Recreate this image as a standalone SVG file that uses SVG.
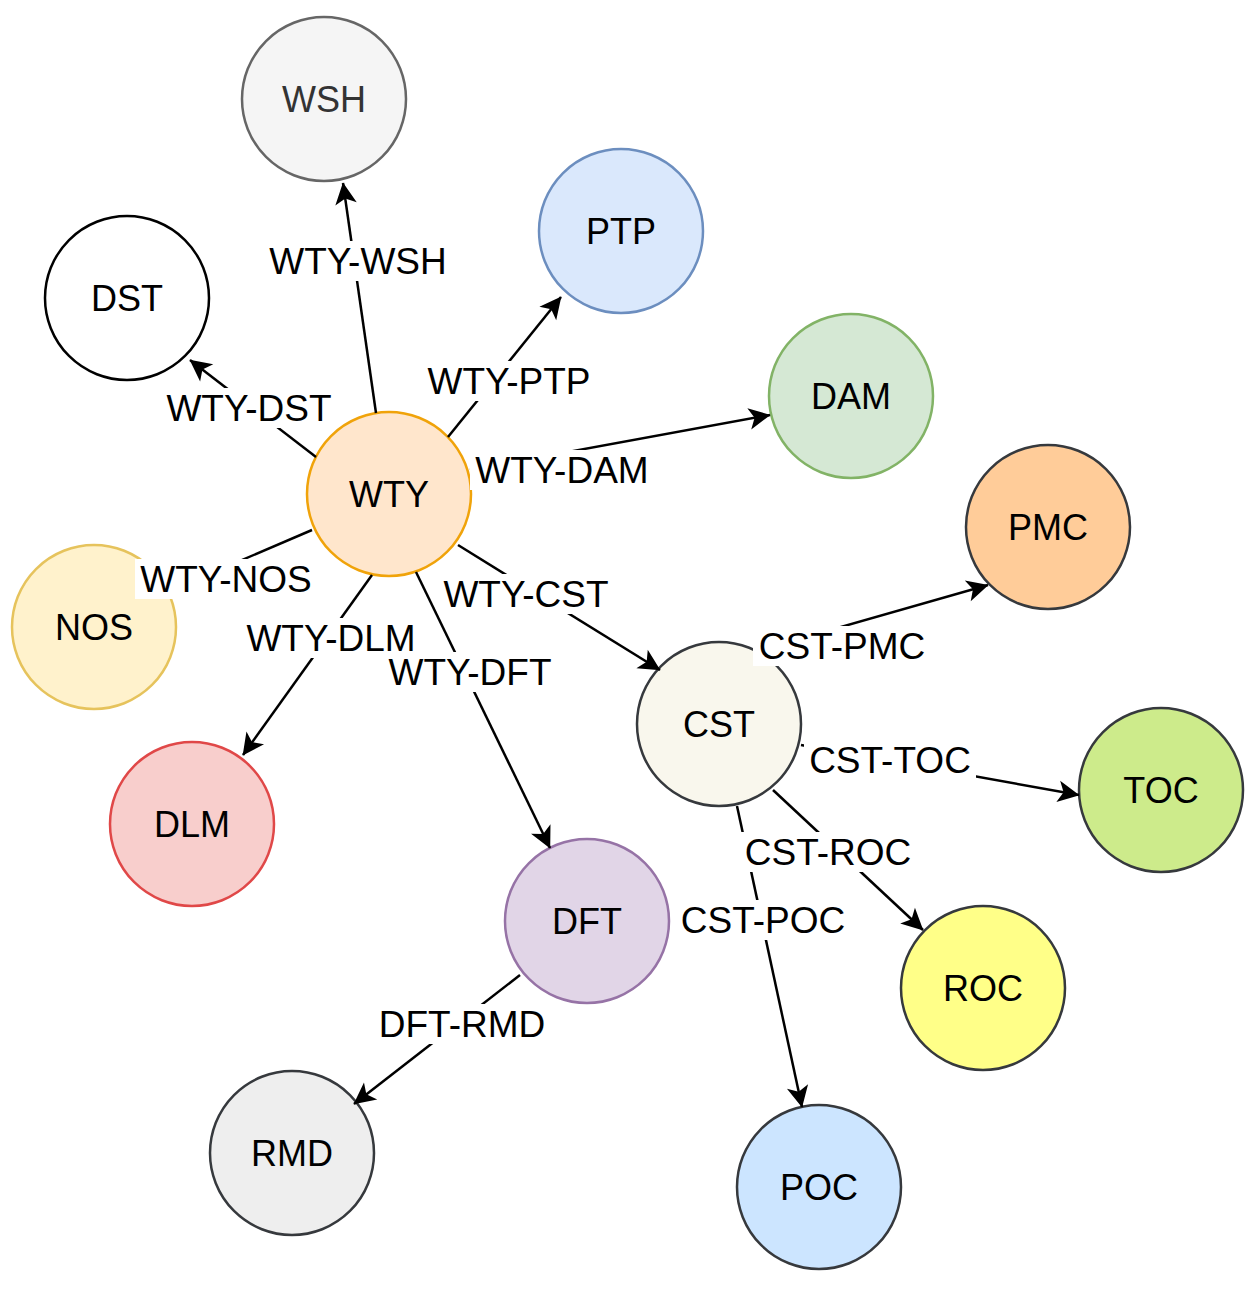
<svg xmlns="http://www.w3.org/2000/svg" width="1259" height="1303" viewBox="0 0 1259 1303">
<style>
.n{stroke-width:2.5}
.t{font-family:"Liberation Sans",Arial,sans-serif;font-size:36px;text-anchor:middle;dominant-baseline:central;fill:#000}
.l{font-family:"Liberation Sans",Arial,sans-serif;font-size:37px;text-anchor:middle;dominant-baseline:central;fill:#000}
.e{stroke:#000;stroke-width:2.5;fill:none}
.bg{fill:#fff}
</style>
<defs><marker id="a" viewBox="0 0 10 10" refX="9" refY="5" markerWidth="9" markerHeight="9" markerUnits="userSpaceOnUse" orient="auto" style="overflow:visible"><path d="M0,0 L10,5 L0,10 L2.5,5 Z" fill="#000" transform="scale(2.4) translate(-6,-2.9)"/></marker></defs>
<rect width="1259" height="1303" fill="#fff"/>
<g id="nodes">
<g id="WSH"><circle class="n" cx="324" cy="99" r="82" fill="#f5f5f5" stroke="#666"/><text class="t" x="324" y="99" fill="#333" style="fill:#333">WSH</text></g>
<g id="PTP"><circle class="n" cx="621" cy="231" r="82" fill="#dae8fc" stroke="#6c8ebf"/><text class="t" x="621" y="231">PTP</text></g>
<g id="DST"><circle class="n" cx="127" cy="298" r="82" fill="#fff" stroke="#000"/><text class="t" x="127" y="298">DST</text></g>
<g id="DAM"><circle class="n" cx="851" cy="396" r="82" fill="#d5e8d4" stroke="#82b366"/><text class="t" x="851" y="396">DAM</text></g>
<g id="WTY"><circle class="n" cx="389" cy="494" r="82" fill="#ffe6cc" stroke="#f0a30a"/><text class="t" x="389" y="494">WTY</text></g>
<g id="PMC"><circle class="n" cx="1048" cy="527" r="82" fill="#ffcc99" stroke="#36393d"/><text class="t" x="1048" y="527">PMC</text></g>
<g id="NOS"><circle class="n" cx="94" cy="627" r="82" fill="#fff2cc" stroke="#e6c35c"/><text class="t" x="94" y="627">NOS</text></g>
<g id="CST"><circle class="n" cx="719" cy="724" r="82" fill="#f9f7ed" stroke="#36393d"/><text class="t" x="719" y="724">CST</text></g>
<g id="TOC"><circle class="n" cx="1161" cy="790" r="82" fill="#cdeb8b" stroke="#36393d"/><text class="t" x="1161" y="790">TOC</text></g>
<g id="DLM"><circle class="n" cx="192" cy="824" r="82" fill="#f8cecc" stroke="#e04848"/><text class="t" x="192" y="824">DLM</text></g>
<g id="DFT"><circle class="n" cx="587" cy="921" r="82" fill="#e1d5e7" stroke="#9673a6"/><text class="t" x="587" y="921">DFT</text></g>
<g id="ROC"><circle class="n" cx="983" cy="988" r="82" fill="#ffff88" stroke="#36393d"/><text class="t" x="983" y="988">ROC</text></g>
<g id="RMD"><circle class="n" cx="292" cy="1153" r="82" fill="#eeeeee" stroke="#36393d"/><text class="t" x="292" y="1153">RMD</text></g>
<g id="POC"><circle class="n" cx="819" cy="1187" r="82" fill="#cce5ff" stroke="#36393d"/><text class="t" x="819" y="1187">POC</text></g>
</g>
<g id="connectors">
<line class="e" x1="376" y1="413" x2="343" y2="183" marker-end="url(#a)"/>
<line class="e" x1="448" y1="437" x2="561" y2="297" marker-end="url(#a)"/>
<line class="e" x1="316" y1="457" x2="190" y2="360" marker-end="url(#a)"/>
<line class="e" x1="470" y1="470" x2="770" y2="415" marker-end="url(#a)"/>
<line class="e" x1="312" y1="530" x2="200" y2="578"/>
<line class="e" x1="372" y1="575" x2="243" y2="755" marker-end="url(#a)"/>
<line class="e" x1="416" y1="572" x2="550" y2="848" marker-end="url(#a)"/>
<line class="e" x1="458" y1="545" x2="660" y2="670" marker-end="url(#a)"/>
<line class="e" x1="757" y1="651" x2="988" y2="585" marker-end="url(#a)"/>
<line class="e" x1="801" y1="745" x2="1079" y2="795" marker-end="url(#a)"/>
<line class="e" x1="773" y1="790" x2="923" y2="930" marker-end="url(#a)"/>
<line class="e" x1="737" y1="806" x2="802" y2="1107" marker-end="url(#a)"/>
<line class="e" x1="520" y1="975" x2="354" y2="1104" marker-end="url(#a)"/>
</g>
<g id="labels">
<rect class="bg" x="263" y="241" width="190" height="40"/><text class="l" x="358" y="261">WTY-WSH</text>
<rect class="bg" x="422" y="361" width="174" height="40"/><text class="l" x="509" y="381">WTY-PTP</text>
<rect class="bg" x="161" y="388" width="176" height="40"/><text class="l" x="249" y="408">WTY-DST</text>
<rect class="bg" x="470" y="450" width="184" height="40"/><text class="l" x="562" y="470">WTY-DAM</text>
<rect class="bg" x="135" y="559" width="183" height="40"/><text class="l" x="226" y="579">WTY-NOS</text>
<rect class="bg" x="242" y="618" width="178" height="40"/><text class="l" x="331" y="638">WTY-DLM</text>
<rect class="bg" x="384" y="652" width="172" height="40"/><text class="l" x="470" y="672">WTY-DFT</text>
<rect class="bg" x="438" y="574" width="176" height="40"/><text class="l" x="526" y="594">WTY-CST</text>
<rect class="bg" x="753" y="626" width="178" height="40"/><text class="l" x="842" y="646">CST-PMC</text>
<rect class="bg" x="804" y="740" width="172" height="40"/><text class="l" x="890" y="760">CST-TOC</text>
<rect class="bg" x="739" y="832" width="178" height="40"/><text class="l" x="828" y="852">CST-ROC</text>
<rect class="bg" x="675" y="900" width="176" height="40"/><text class="l" x="763" y="920">CST-POC</text>
<rect class="bg" x="373" y="1004" width="178" height="40"/><text class="l" x="462" y="1024">DFT-RMD</text>
</g>
</svg>
